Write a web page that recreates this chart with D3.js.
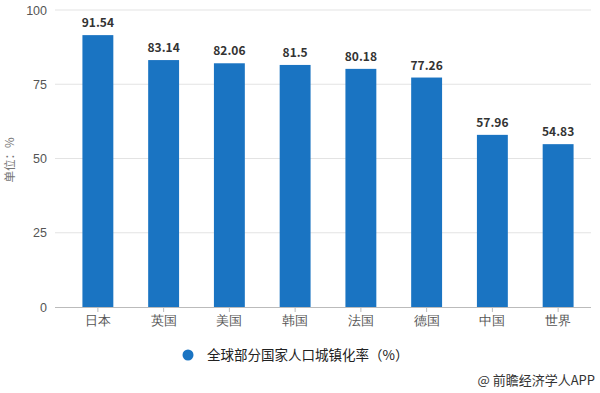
<!DOCTYPE html>
<html><head><meta charset="utf-8">
<script src="https://cdn.jsdelivr.net/npm/d3@7"></script>
<style>body{margin:0;background:#fff;}svg{display:block;font-family:"Noto Sans CJK SC","Noto Sans",sans-serif;}</style>
</head><body><svg id="c" width="600" height="393"></svg>
<script>
const categories = ["日本","英国","美国","韩国","法国","德国","中国","世界"];
const values = [91.54, 83.14, 82.06, 81.5, 80.18, 77.26, 57.96, 54.83];
const valueLabels = ["91.54","83.14","82.06","81.5","80.18","77.26","57.96","54.83"];
const yTicks = [0, 25, 50, 75, 100];
const seriesName = "全球部分国家人口城镇化率（%）";

const svg = d3.select("#c");
const x = d3.scaleBand().domain(categories).range([65, 591]).paddingInner(0.53).paddingOuter(0.265);
const y = d3.scaleLinear().domain([0, 100]).range([307, 10]);

// gridlines
svg.append("g").selectAll("line").data(yTicks.filter(d => d > 0)).join("line")
  .attr("x1", 55).attr("x2", 591).attr("y1", d => y(d)).attr("y2", d => y(d))
  .attr("stroke", "#e3e3e3").attr("stroke-width", 1);

// y axis labels
const ya = svg.append("g").attr("transform", "translate(55,0)")
  .call(d3.axisLeft(y).tickValues(yTicks).tickSize(0).tickPadding(8));
ya.select(".domain").remove();
ya.selectAll("text").attr("fill", "#555").attr("font-size", 12.5);

// bars
svg.append("g").selectAll("rect").data(categories).join("rect")
  .attr("x", d => x(d)).attr("width", x.bandwidth())
  .attr("y", (d, i) => y(values[i])).attr("height", (d, i) => y(0) - y(values[i]))
  .attr("fill", "#1a74c2");

// value labels
svg.append("g").selectAll("text").data(categories).join("text")
  .attr("x", d => x(d) + x.bandwidth() / 2).attr("y", (d, i) => y(values[i]) - 8)
  .attr("text-anchor", "middle").attr("font-size", 12).attr("font-weight", "bold")
  .attr("fill", "#333").text((d, i) => valueLabels[i]);

// x axis
const xa = svg.append("g").attr("transform", "translate(0,307)")
  .call(d3.axisBottom(x).tickSize(5).tickPadding(4).tickSizeOuter(0));
xa.select(".domain").attr("stroke", "#bbb").attr("d", "M55,0.5H591");
xa.selectAll(".tick line").attr("stroke", "#bbb");
xa.selectAll("text").attr("fill", "#555").attr("font-size", 13);

// y title
svg.append("text").attr("transform", "translate(14,160) rotate(-90)")
  .attr("text-anchor", "middle").attr("font-size", 11.5).attr("fill", "#777").text("单位：%");

// legend
svg.append("circle").attr("cx", 188).attr("cy", 355).attr("r", 5.5).attr("fill", "#1a74c2");
svg.append("text").attr("x", 207).attr("y", 360).attr("font-size", 13.5).attr("fill", "#222").text(seriesName);

// source
svg.append("text").attr("x", 595).attr("y", 385).attr("text-anchor", "end")
  .attr("font-size", 13).attr("fill", "#333").text("@ 前瞻经济学人APP");
</script></body></html>
